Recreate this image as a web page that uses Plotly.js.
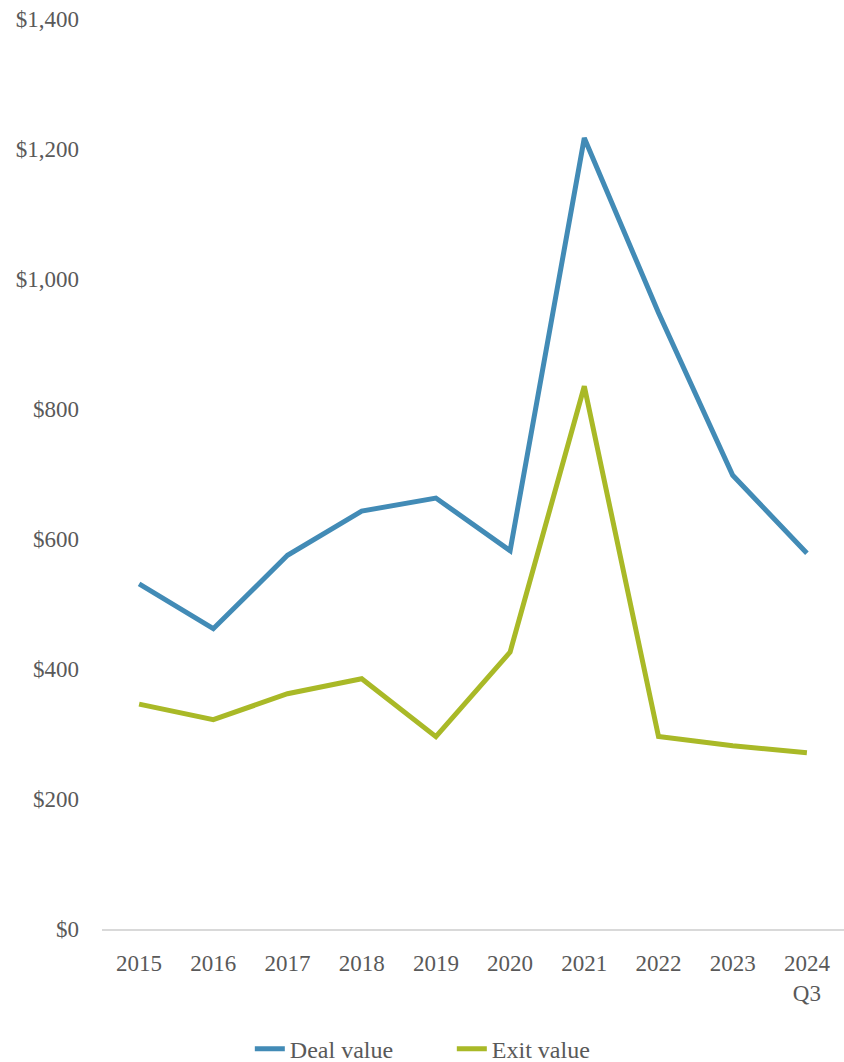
<!DOCTYPE html>
<html>
<head>
<meta charset="utf-8">
<script src="https://cdn.plot.ly/plotly-3.0.1.min.js"></script>
<style>html,body{margin:0;padding:0;background:#fff;}#chart{width:844px;height:1062px;}</style>
</head>
<body>
<div id="chart"></div>
<script>
const categories = ["2015","2016","2017","2018","2019","2020","2021","2022","2023","2024<br>Q3"];
const dealValue = [531, 462, 575, 643, 663, 582, 1217, 948, 698, 578];
const exitValue = [346, 322, 362, 385, 296, 426, 835, 296, 282, 271];
const yTicks = [0, 200, 400, 600, 800, 1000, 1200, 1400];
const yTickText = ["$0","$200","$400","$600","$800","$1,000","$1,200","$1,400"];

const fontFamily = "'Liberation Serif', 'DejaVu Serif', serif";
const textColor = "#595959";

const traces = [
  {x: categories, y: dealValue, name: "Deal value", type: "scatter", mode: "lines",
   line: {color: "#428BB6", width: 5}},
  {x: categories, y: exitValue, name: "Exit value", type: "scatter", mode: "lines",
   line: {color: "#A9B927", width: 5}}
];

const layout = {
  width: 844, height: 1062,
  margin: {l: 102, r: 0, t: 19, b: 133},
  paper_bgcolor: "#fff", plot_bgcolor: "#fff",
  font: {family: fontFamily, size: 23, color: textColor},
  showlegend: true,
  legend: {orientation: "h", xref: "container", yref: "container", x: 0.296, xanchor: "left",
           y: 0.012, yanchor: "middle", entrywidth: 157, entrywidthmode: "pixels",
           font: {family: fontFamily, size: 24, color: textColor}, traceorder: "normal"},
  xaxis: {type: "category", range: [-0.5, 9.5], automargin: false, showgrid: false, zeroline: false, showline: true,
          linecolor: "#d9d9d9", linewidth: 2, ticks: "", tickfont: {size: 23, color: textColor},
          ticklabelstandoff: 12, fixedrange: true},
  yaxis: {range: [0, 1400], automargin: false, tickvals: yTicks, ticktext: yTickText, showgrid: false,
          zeroline: false, showline: false, ticks: "", ticklabelstandoff: 22,
          tickfont: {size: 23, color: textColor}, fixedrange: true}
};

Plotly.newPlot("chart", traces, layout, {displayModeBar: false, staticPlot: true});
</script>
</body>
</html>
